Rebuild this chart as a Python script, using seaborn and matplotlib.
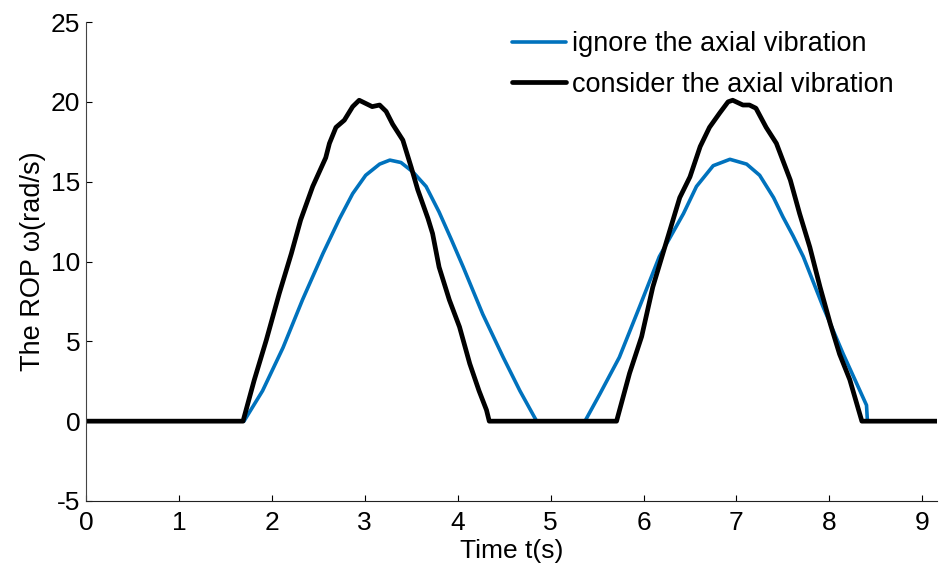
import numpy as np
import pandas as pd
import matplotlib
matplotlib.use("Agg")
import matplotlib.pyplot as plt
import seaborn as sns

# --- dati ---
# curva blu: senza vibrazione assiale
blue_t = [0.0, 1.70, 1.90, 2.12, 2.33, 2.55, 2.73, 2.87, 3.01, 3.16, 3.27, 3.39, 3.52,
          3.66, 3.80, 3.93, 4.06, 4.27, 4.49, 4.67, 4.85, 5.37, 5.53, 5.74, 5.96, 6.17,
          6.43, 6.57, 6.75, 6.93, 7.11, 7.25, 7.40, 7.50, 7.61, 7.72, 7.93, 8.15, 8.33,
          8.40, 8.41, 9.16]
blue_v = [0.0, 0.0, 1.9, 4.6, 7.6, 10.5, 12.7, 14.25, 15.4, 16.1, 16.35, 16.2, 15.6,
          14.7, 13.1, 11.4, 9.65, 6.7, 4.0, 1.9, 0.0, 0.0, 1.7, 4.0, 7.2, 10.3,
          13.0, 14.7, 16.0, 16.4, 16.1, 15.4, 14.0, 12.8, 11.6, 10.3, 7.2, 4.2, 1.9,
          1.0, 0.0, 0.0]

# curva nera: con vibrazione assiale
black_t = [0.0, 1.69, 1.81, 1.94, 2.08, 2.21, 2.31, 2.44, 2.58, 2.62, 2.69, 2.78, 2.87,
           2.94, 3.01, 3.08, 3.16, 3.23, 3.30, 3.41, 3.50, 3.57, 3.68, 3.73, 3.80,
           3.91, 4.02, 4.13, 4.23, 4.31, 4.34, 5.71, 5.85, 5.98, 6.10, 6.25, 6.39,
           6.50, 6.61, 6.71, 6.82, 6.91, 6.96, 7.07, 7.14, 7.21, 7.32, 7.43, 7.58,
           7.68, 7.79, 7.90, 8.01, 8.11, 8.22, 8.35, 9.16]
black_v = [0.0, 0.0, 2.56, 5.07, 8.0, 10.5, 12.6, 14.7, 16.5, 17.4, 18.4, 18.85, 19.7,
           20.1, 19.9, 19.7, 19.8, 19.4, 18.6, 17.6, 15.9, 14.5, 12.7, 11.75, 9.65,
           7.6, 5.9, 3.6, 1.9, 0.7, 0.0, 0.0, 3.0, 5.3, 8.4, 11.3, 14.0,
           15.3, 17.2, 18.4, 19.3, 20.0, 20.1, 19.8, 19.8, 19.6, 18.4, 17.4, 15.1,
           13.0, 10.9, 8.4, 6.1, 4.2, 2.6, 0.0, 0.0]

x_ticks = [0, 1, 2, 3, 4, 5, 6, 7, 8, 9]
y_ticks = [-5, 0, 5, 10, 15, 20, 25]

sns.set_style("ticks")
plt.rcParams['font.family'] = ['Liberation Sans', 'DejaVu Sans']
plt.rcParams['axes.unicode_minus'] = False
plt.rcParams['text.color'] = 'black'
plt.rcParams['axes.labelcolor'] = 'black'
plt.rcParams['xtick.color'] = 'black'
plt.rcParams['ytick.color'] = 'black'

fig = plt.figure(figsize=(9.39, 5.68), dpi=100)
ax = fig.add_axes([86 / 939, 67 / 568, 1 - 86 / 939 - 0.002, (501 - 22) / 568])

sns.lineplot(x=blue_t, y=blue_v, ax=ax, color='#0072BD', linewidth=2.6,
             estimator=None, sort=False, label='ignore the axial vibration')
sns.lineplot(x=black_t, y=black_v, ax=ax, color='black', linewidth=3.4,
             estimator=None, sort=False, label='consider the axial vibration')

ax.set_xlim(0, 9.16)
ax.set_ylim(-5, 25)
ax.set_xticks(x_ticks)
ax.set_yticks(y_ticks)
ax.tick_params(direction='in', length=4, width=0.8, labelsize=19, pad=4)
ax.tick_params(axis='x', pad=7)
sns.despine(ax=ax)
ax.spines['left'].set_color('#444444')
ax.spines['bottom'].set_color('#222222')

ax.set_xlabel('Time t(s)', fontsize=19, labelpad=3)
ax.set_ylabel('The ROP ω(rad/s)', fontsize=19.5, labelpad=4)

ax.legend(loc='upper left', bbox_to_anchor=(512 / 939, 1 - 31 / 568),
          bbox_transform=fig.transFigure, frameon=False, fontsize=19.5,
          handlelength=2.0, handletextpad=0.2, borderaxespad=0, borderpad=0,
          labelspacing=0.55)

plt.savefig('out.png', dpi=100)
